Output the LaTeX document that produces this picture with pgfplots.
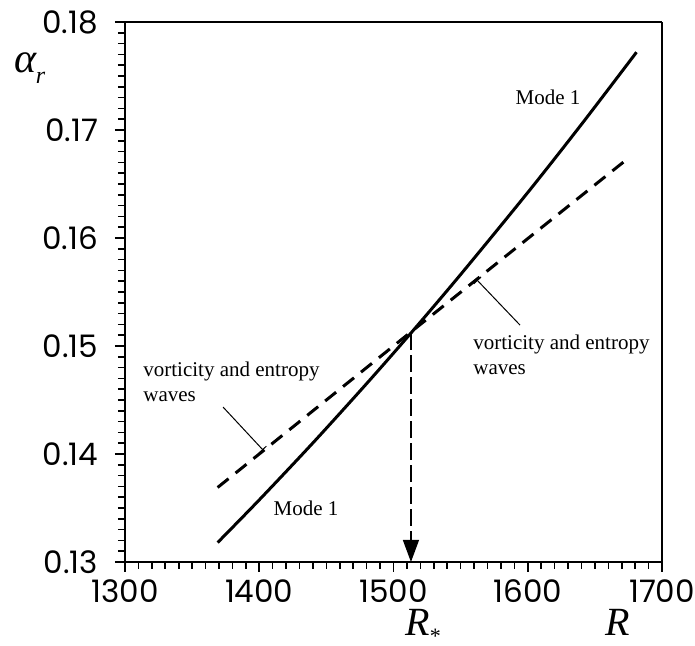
\documentclass[border=0pt]{standalone}
\usepackage{fontspec}
\setmainfont{Liberation Serif}
\newfontfamily\tickfont{Poppins}
\usepackage{pgfplots}
\usepackage{pgfplotstable}
\pgfplotsset{compat=1.18}
\usetikzlibrary{arrows.meta}

% Mode 1 (solid)
\pgfplotstableread{
R a
1369 0.1318
1400 0.13575
1440 0.14103
1480 0.14652
1513 0.1512
1550 0.15662
1600 0.16421
1640 0.17052
1681 0.1772
}\modeone

% vorticity and entropy waves (dashed)
\pgfplotstableread{
R a
1369 0.1369
1513 0.1513
1675 0.1674
}\waves

\begin{document}
\begin{tikzpicture}
\begin{axis}[
    name=ax,
    scale only axis,
    width=268.5pt, height=270pt,
    xmin=1300, xmax=1700,
    ymin=0.13, ymax=0.18,
    xtick={1300,1400,1500,1600,1700},
    ytick={0.13,0.14,0.15,0.16,0.17,0.18},
    minor x tick num=9,
    minor y tick num=9,
    tick align=outside,
    tick pos=left,
    major tick length=5pt,
    minor tick length=3.5pt,
    every tick/.style={black, line width=0.8pt},
    axis line style={draw=none},
    ticklabel style={font=\tickfont\fontsize{15.5}{18}\selectfont},
    /pgf/number format/assume math mode=true,
    xticklabel style={yshift=-2.5pt, inner sep=1pt, text depth=0pt, /pgf/number format/set thousands separator={}},
    yticklabel style={xshift=-5pt, /pgf/number format/.cd, fixed, fixed zerofill, precision=2},
    clip=false,
]
    % frame
    \draw[line width=1pt] (rel axis cs:0,1) -- (rel axis cs:0,0) -- (rel axis cs:1,0);
    \draw[line width=1pt] (rel axis cs:0,1) -- (rel axis cs:1,1);
    \draw[line width=0.6pt] (rel axis cs:1,0) -- (rel axis cs:1,1);

    \addplot[black, line width=1.5pt, no marks, smooth] table[x=R, y=a] {\modeone};
    \addplot[black, line width=1.5pt, no marks, dash pattern=on 7pt off 4.5pt] table[x=R, y=a] {\waves};

    % R_* arrow
    \draw[line width=0.6pt, dash pattern=on 8.5pt off 2.5pt, -{Triangle[width=8pt,length=11pt]}]
        (axis cs:1513,0.1512) -- (axis cs:1513,0.13);

    % pointers
    \draw[line width=0.5pt, {Bar[width=5pt]}-] (axis cs:1562.2,0.15611) -- (axis cs:1594.2,0.15194);
    \draw[line width=0.5pt, {Bar[width=5pt]}-] (axis cs:1402.8,0.14037) -- (axis cs:1373,0.14435);

    % annotations
    \node[font=\fontsize{10.5}{12.5}\selectfont] at (axis cs:1615.1,0.17306) {Mode 1};
    \node[font=\fontsize{10.5}{12.5}\selectfont] at (axis cs:1434.8,0.1350) {Mode 1};
    \node[anchor=north west, inner sep=0pt, align=left, font=\fontsize{10.5}{12.5}\selectfont]
        at (axis cs:1313.4,0.14852) {vorticity and entropy\\waves};
    \node[anchor=north west, inner sep=0pt, align=left, font=\fontsize{10.5}{12.5}\selectfont]
        at (axis cs:1559.2,0.15102) {vorticity and entropy\\waves};

    % axis labels
    \node[font=\fontsize{21}{24}\selectfont] at (axis cs:1229.2,0.17574)
        {\itshape α\kern-0.5pt\raisebox{-0.25em}{\fontsize{12}{12}\selectfont r}};
    \node[anchor=base west, inner sep=0pt, font=\fontsize{20}{24}\selectfont] at (axis cs:1508.6,0.1232)
        {\itshape R\raisebox{-0.2em}{\fontsize{11}{11}\selectfont\upshape *}};
    \node[anchor=base west, inner sep=0pt, font=\fontsize{20}{24}\selectfont] at (axis cs:1657.5,0.1232)
        {\itshape R};
\end{axis}
\pgfresetboundingbox
\path[use as bounding box] ([xshift=-62.5pt,yshift=-42pt]ax.south west) rectangle ++(347.5pt,323pt);
\end{tikzpicture}
\end{document}
